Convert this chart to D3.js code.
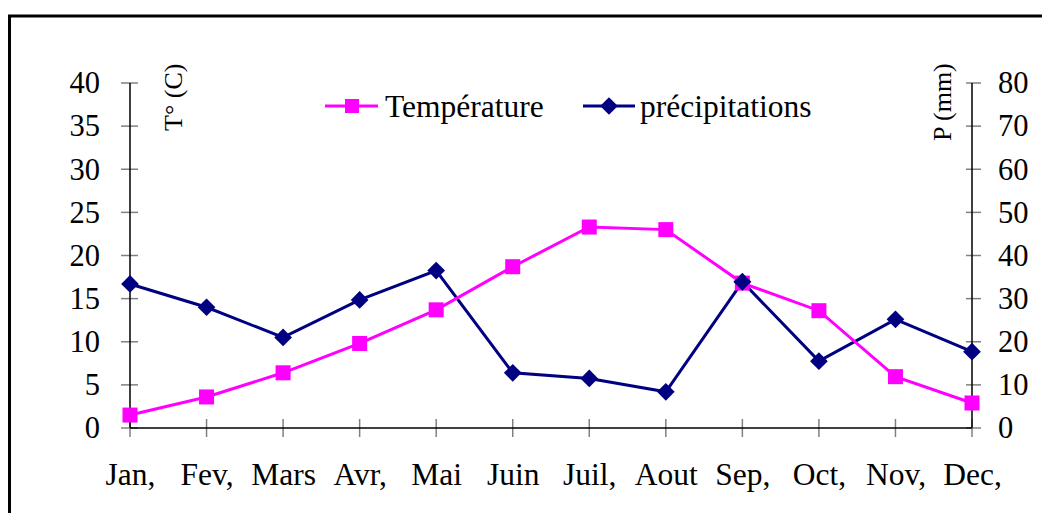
<!DOCTYPE html>
<html><head><meta charset="utf-8">
<script src="https://cdn.jsdelivr.net/npm/d3@7"></script>
<style>html,body{margin:0;padding:0;background:#fff;overflow:hidden}svg{display:block}</style>
</head><body>
<script>
const months = ["Jan,","Fev,","Mars","Avr,","Mai","Juin","Juil,","Aout","Sep,","Oct,","Nov,","Dec,"];
const temperature = [1.5,3.6,6.4,9.8,13.7,18.7,23.3,23.0,16.8,13.6,5.95,2.9];
const precipitations = [33.4,28.0,21.0,29.7,36.5,12.8,11.5,8.4,33.9,15.5,25.2,17.7];
const leftTicks = [0,5,10,15,20,25,30,35,40];
const rightTicks = [0,10,20,30,40,50,60,70,80];

const W = 1042, H = 513;
const svg = d3.select("body").append("svg").attr("width", W).attr("height", H);
const font = "'Liberation Serif','Times New Roman',serif";

// outer frame
svg.append("rect").attr("x", 9.5).attr("y", 16).attr("width", 1100).attr("height", 600)
  .attr("fill", "none").attr("stroke", "#000").attr("stroke-width", 3);

const x0 = 130, x1 = 972, yTop = 83, yBot = 428;
const x = d3.scalePoint().domain(months).range([x0, x1]);
const yL = d3.scaleLinear().domain([0, 40]).range([yBot, yTop]);
const yR = d3.scaleLinear().domain([0, 80]).range([yBot, yTop]);

// left axis
const gL = svg.append("g").attr("transform", `translate(${x0},0)`)
  .call(d3.axisLeft(yL).tickValues(leftTicks).tickSize(0).tickPadding(30));
gL.select(".domain").remove();
gL.selectAll("text").attr("font-family", font).attr("font-size", 30.5).attr("fill", "#000");
svg.append("g").selectAll("line").data(leftTicks).join("line")
  .attr("x1", x0 - 9).attr("x2", x0 + 8).attr("y1", d => yL(d)).attr("y2", d => yL(d))
  .attr("stroke", "#808080").attr("stroke-width", 1.5);

// right axis
const gR = svg.append("g").attr("transform", `translate(${x1},0)`)
  .call(d3.axisRight(yR).tickValues(rightTicks).tickSize(0).tickPadding(26));
gR.select(".domain").remove();
gR.selectAll("text").attr("font-family", font).attr("font-size", 30.5).attr("fill", "#000");
svg.append("g").selectAll("line").data(rightTicks).join("line")
  .attr("x1", x1 - 6).attr("x2", x1 + 9).attr("y1", d => yR(d)).attr("y2", d => yR(d))
  .attr("stroke", "#808080").attr("stroke-width", 1.5);

// bottom axis
const gB = svg.append("g").attr("transform", `translate(0,${yBot})`)
  .call(d3.axisBottom(x).tickSize(0).tickPadding(35));
gB.select(".domain").remove();
gB.selectAll("text").attr("font-family", font).attr("font-size", 31.5).attr("fill", "#000");
svg.append("g").selectAll("line").data(months).join("line")
  .attr("x1", d => x(d)).attr("x2", d => x(d)).attr("y1", yBot - 9).attr("y2", yBot + 9)
  .attr("stroke", "#808080").attr("stroke-width", 1.5);

// axis lines
svg.append("line").attr("x1", x0).attr("x2", x0).attr("y1", yTop).attr("y2", yBot).attr("stroke", "#000").attr("stroke-width", 1.5);
svg.append("line").attr("x1", x1).attr("x2", x1).attr("y1", yTop).attr("y2", yBot).attr("stroke", "#000").attr("stroke-width", 1.5);
svg.append("line").attr("x1", x0).attr("x2", x1).attr("y1", yBot).attr("y2", yBot).attr("stroke", "#000").attr("stroke-width", 1.5);

// axis titles
svg.append("text").attr("transform", "translate(182,131) rotate(-90)")
  .attr("font-family", font).attr("font-size", 26).text("T° (C)");
svg.append("text").attr("transform", "translate(951,141) rotate(-90)")
  .attr("font-family", font).attr("font-size", 26).text("P (mm)");

const pink = "#FF00FF", navy = "#000080";
const diamond = d3.symbol().type(d3.symbolDiamond2).size(200);

// precipitation line
svg.append("path").datum(precipitations)
  .attr("d", d3.line().x((d, i) => x(months[i])).y(d => yR(d)))
  .attr("fill", "none").attr("stroke", navy).attr("stroke-width", 3);
svg.append("g").selectAll("path").data(precipitations).join("path")
  .attr("d", diamond).attr("transform", (d, i) => `translate(${x(months[i])},${yR(d)})`)
  .attr("fill", navy);

// temperature line
svg.append("path").datum(temperature)
  .attr("d", d3.line().x((d, i) => x(months[i])).y(d => yL(d)))
  .attr("fill", "none").attr("stroke", pink).attr("stroke-width", 3);
svg.append("g").selectAll("rect").data(temperature).join("rect")
  .attr("x", (d, i) => x(months[i]) - 7.5).attr("y", d => yL(d) - 7.5)
  .attr("width", 15).attr("height", 15).attr("fill", pink);

// precipitation markers on top where overlapping (Sep)
svg.append("g").selectAll("path").data(precipitations.filter((d, i) => months[i] === "Sep,")).join("path")
  .attr("d", diamond).attr("transform", d => `translate(${x("Sep,")},${yR(d)})`)
  .attr("fill", navy);

// legend
const lg = svg.append("g");
lg.append("line").attr("x1", 325).attr("x2", 378).attr("y1", 106).attr("y2", 106).attr("stroke", pink).attr("stroke-width", 3);
lg.append("rect").attr("x", 345).attr("y", 99).attr("width", 14).attr("height", 14).attr("fill", pink);
lg.append("text").attr("x", 385).attr("y", 117).attr("font-family", font).attr("font-size", 31.5).text("Température");
lg.append("line").attr("x1", 583).attr("x2", 635).attr("y1", 106).attr("y2", 106).attr("stroke", navy).attr("stroke-width", 3);
lg.append("path").attr("d", diamond).attr("transform", "translate(609,106)").attr("fill", navy);
lg.append("text").attr("x", 640).attr("y", 117).attr("font-family", font).attr("font-size", 31.5).text("précipitations");
</script>
</body></html>
